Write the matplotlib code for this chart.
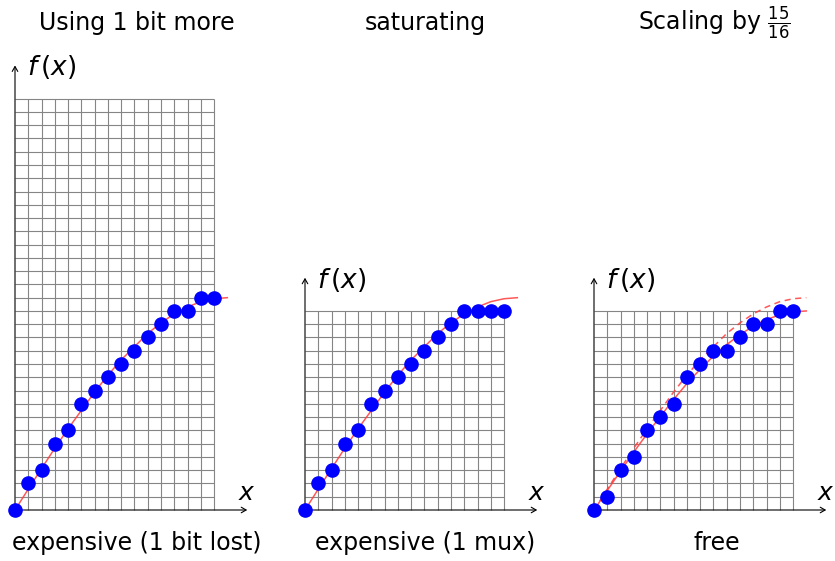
import matplotlib
matplotlib.use("Agg")
import matplotlib.pyplot as plt

# ---- data ----
x_points = list(range(16))
y_one_bit_more = [0, 2, 3, 5, 6, 8, 9, 10, 11, 12, 13, 14, 15, 15, 16, 16]
y_saturating = [0, 2, 3, 5, 6, 8, 9, 10, 11, 12, 13, 14, 15, 15, 15, 15]
y_scaled = [0, 1, 3, 4, 6, 7, 8, 10, 11, 12, 12, 13, 14, 14, 15, 15]

x_curve = list(range(17))
curve_full = [0, 1.57, 3.12, 4.66, 6.12, 7.5, 8.89, 10.16, 11.31, 12.3,
              13.3, 14.1, 14.78, 15.3, 15.7, 15.92, 16]
curve_scaled = [0, 1.47, 2.93, 4.37, 5.74, 7.05, 8.33, 9.53, 10.6, 11.6,
                12.47, 13.2, 13.86, 14.36, 14.7, 14.93, 15]

titles = ["Using 1 bit more", "saturating", r"Scaling by $\frac{15}{16}$"]
captions = ["expensive (1 bit lost)", "expensive (1 mux)", "free"]
grid_cols = [15, 15, 15]
grid_rows = [31, 15, 15]
yaxis_tops = [33.5, 17.5, 17.5]

# ---- layout (pixels) ----
W, H = 835, 561
U = 13.27
origins = [(15, 510), (305, 510), (594, 510)]
title_cx = [137, 425, 714]
caption_cx = [137, 425, 717]

plt.rcParams['mathtext.fontset'] = 'dejavusans'
plt.rcParams['font.family'] = ['DejaVu Sans']

fig = plt.figure(figsize=(W / 100, H / 100), dpi=100)

XMIN, XMAX, YMIN, YMAX = -1.5, 19.0, -1.5, 35.0
axes = []
for (ox, oy) in origins:
    left = (ox + XMIN * U) / W
    bottom = (H - (oy - YMIN * U)) / H
    width = (XMAX - XMIN) * U / W
    height = (YMAX - YMIN) * U / H
    ax = fig.add_axes([left, bottom, width, height])
    ax.set_xlim(XMIN, XMAX)
    ax.set_ylim(YMIN, YMAX)
    ax.axis('off')
    axes.append(ax)

grid_color = '#858585'
red = '#ff3b3b'
blue = '#0000ff'
series = [y_one_bit_more, y_saturating, y_scaled]

for i, ax in enumerate(axes):
    nc, nr = grid_cols[i], grid_rows[i]
    ax.vlines(range(1, nc + 1), 0, nr, color=grid_color, lw=0.8, zorder=1)
    ax.hlines(range(1, nr + 1), 0, nc, color=grid_color, lw=0.8, zorder=1)
    # axes arrows
    ax.annotate('', xy=(17.5, 0), xytext=(0, 0),
                arrowprops=dict(arrowstyle='->,head_length=0.35,head_width=0.2',
                                color='black', lw=0.8, shrinkA=0, shrinkB=0),
                annotation_clip=False, zorder=2)
    ax.annotate('', xy=(0, yaxis_tops[i]), xytext=(0, 0),
                arrowprops=dict(arrowstyle='->,head_length=0.35,head_width=0.2',
                                color='black', lw=0.8, shrinkA=0, shrinkB=0),
                annotation_clip=False, zorder=2)
    ax.text(17.5, 0.75, r'$x$', fontsize=18, ha='center', va='baseline')
    ax.text(0.9, yaxis_tops[i] - 0.75, r'$f\,(x)$', fontsize=19, ha='left',
            va='baseline')

    # curves
    if i == 2:
        ax.plot(x_curve, curve_full, color=red, lw=1.1, ls=(0, (4, 3)), alpha=0.85,
                zorder=3, clip_on=False)
        ax.plot(x_curve, curve_scaled, color=red, lw=1.1, alpha=0.85, zorder=3,
                clip_on=False)
    else:
        ax.plot(x_curve, curve_full, color=red, lw=1.1, alpha=0.85, zorder=3,
                clip_on=False)
    ax.plot(x_points, series[i], 'o', color=blue, ms=9.5, mec=blue, zorder=4,
            clip_on=False)

for i in range(3):
    fig.text(title_cx[i] / W, 1 - 30 / H, titles[i], fontsize=17,
             ha='center', va='baseline')
    fig.text(caption_cx[i] / W, 1 - 550 / H, captions[i], fontsize=17,
             ha='center', va='baseline')

fig.savefig('out.png', dpi=100)
